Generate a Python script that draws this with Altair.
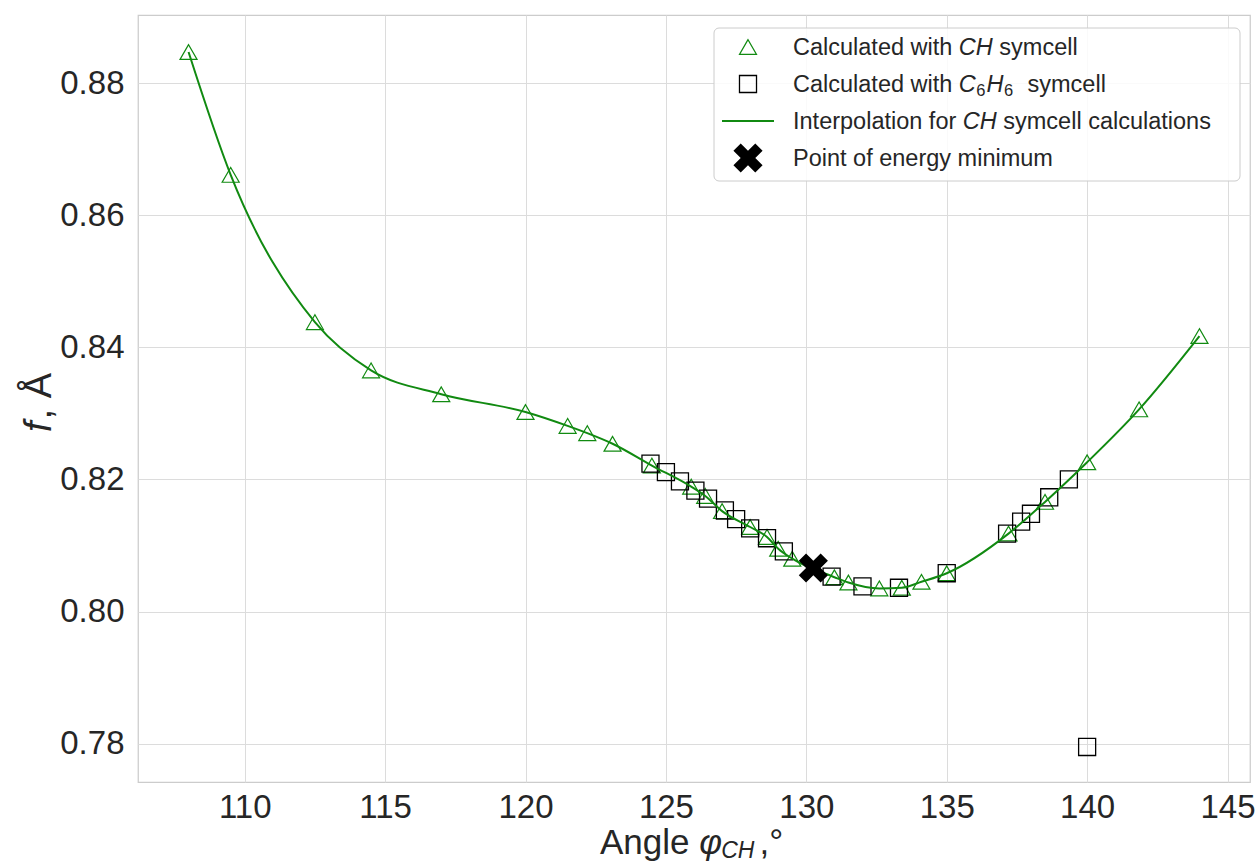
import altair as alt
import pandas as pd

# ---------------- data ----------------
ch_angle = [108.0, 109.5, 112.5, 114.5, 117.0, 120.0, 121.5, 122.2, 123.1, 124.5,
            125.9, 126.4, 127.0, 128.0, 128.6, 129.0, 129.5, 131.0, 131.5, 132.6,
            133.4, 134.1, 135.0, 137.2, 138.5, 140.0, 141.85, 144.0]
ch_f = [0.8847, 0.8661, 0.8438, 0.8365, 0.8329, 0.8302, 0.8281, 0.8270, 0.8254, 0.8221,
        0.8189, 0.8175, 0.8152, 0.8128, 0.8113, 0.8095, 0.8080, 0.8052, 0.8044, 0.8035,
        0.8036, 0.8045, 0.8058, 0.8118, 0.8166, 0.8226, 0.8306, 0.8417]

c6_angle = [124.45, 125.0, 125.5, 126.05, 126.5, 127.1, 127.5, 128.0, 128.6, 129.2,
            130.9, 132.0, 133.3, 135.0, 137.15, 137.65, 138.0, 138.65, 139.35, 140.0]
c6_f = [0.8224, 0.8211, 0.8197, 0.8183, 0.8171, 0.8153, 0.8140, 0.8126, 0.8111, 0.8091,
        0.8053, 0.8038, 0.8036, 0.8058, 0.8118, 0.8136, 0.8148, 0.8173, 0.8200, 0.7795]

min_angle = [130.25]
min_f = [0.8066]

x_ticks = [110, 115, 120, 125, 130, 135, 140, 145]
y_ticks = [0.78, 0.80, 0.82, 0.84, 0.86, 0.88]

legend_labels = ["Calculated with", "CH", "symcell", "C", "6", "H", "symcell",
                 "Interpolation for", "symcell calculations", "Point of energy minimum"]

# ---------------- styling ----------------
FONT = "Liberation Sans"
TC = "#262626"
GREEN = "#118a11"
X_PATH = ("M-0.5,-1L0,-0.5L0.5,-1L1,-0.5L0.5,0L1,0.5L0.5,1L0,0.5"
          "L-0.5,1L-1,0.5L-0.5,0L-1,-0.5Z")

ARIAL = {' ': 278, 'C': 722, 'a': 556, 'l': 222, 'c': 500, 'u': 556, 't': 278, 'e': 556,
         'd': 556, 'w': 722, 'i': 222, 'h': 556, 'H': 722, 's': 500, 'y': 500, 'm': 833,
         'I': 278, 'n': 556, 'r': 333, 'p': 556, 'o': 556, 'f': 278, 'P': 667, 'g': 556,
         '6': 556, ',': 278, 'A': 667}


def tw(s, fs):
    return sum(ARIAL.get(ch, 556) for ch in s) * fs / 1000.0


ch = pd.DataFrame({"angle": ch_angle, "f": ch_f})
c6 = pd.DataFrame({"angle": c6_angle, "f": c6_f})
mn = pd.DataFrame({"angle": min_angle, "f": min_f})
one = pd.DataFrame({"k": [0]})

xs = alt.Scale(domain=[106.2, 145.8], nice=False, zero=False)
ys = alt.Scale(domain=[0.7742, 0.8903], nice=False, zero=False)
xax = alt.Axis(values=x_ticks, title=None, format="d", labelPadding=9)
yax = alt.Axis(values=y_ticks, title=None, format=".2f", labelPadding=14)


def enc(c):
    return c.encode(x=alt.X("angle:Q", scale=xs, axis=xax),
                    y=alt.Y("f:Q", scale=ys, axis=yax))


tri = enc(alt.Chart(ch).mark_point(shape="triangle-up", filled=False, color=GREEN,
                                   size=290, strokeWidth=1.2, opacity=1))
sq = enc(alt.Chart(c6).mark_point(shape="square", filled=False, color="black",
                                  size=290, strokeWidth=1.3, opacity=1))
line = enc(alt.Chart(ch).mark_line(color=GREEN, strokeWidth=2, interpolate="monotone"))
xmin = enc(alt.Chart(mn).mark_point(shape=X_PATH, filled=True, color="black",
                                    size=850, opacity=1, strokeWidth=0))


def txt(s, x, y, fs, italic=False, angle=0, baseline="alphabetic"):
    return alt.Chart(one).mark_text(
        text=s, font=FONT, fontSize=fs, fontStyle="italic" if italic else "normal",
        color=TC, align="left", baseline=baseline, angle=angle
    ).encode(x=alt.value(x), y=alt.value(y))


layers = [tri, sq, line, xmin]

# ---------------- legend ----------------
box = alt.Chart(one).mark_rect(fill="white", fillOpacity=0.85, stroke="#cccccc",
                               strokeWidth=1, cornerRadius=5).encode(
    x=alt.value(576), x2=alt.value(1102), y=alt.value(13), y2=alt.value(166))
layers.append(box)

mx = 610
rows = [32, 69, 106, 143]
layers.append(alt.Chart(one).mark_point(shape="triangle-up", filled=False, color=GREEN,
                                        size=290, strokeWidth=1.2, opacity=1)
              .encode(x=alt.value(mx), y=alt.value(rows[0])))
layers.append(alt.Chart(one).mark_point(shape="square", filled=False, color="black",
                                        size=290, strokeWidth=1.3, opacity=1)
              .encode(x=alt.value(mx), y=alt.value(rows[1])))
layers.append(alt.Chart(one).mark_rule(color=GREEN, strokeWidth=2)
              .encode(x=alt.value(584), x2=alt.value(636), y=alt.value(rows[2])))
layers.append(alt.Chart(one).mark_point(shape=X_PATH, filled=True, color="black",
                                        size=850, opacity=1, strokeWidth=0)
              .encode(x=alt.value(mx), y=alt.value(rows[3])))

FS = 23.5
SP = tw(" ", FS)
tx = 655
bl = [r + 8.4 for r in rows]
# row 1
x1 = tx + tw(legend_labels[0], FS) + SP
layers.append(txt(legend_labels[0], tx, bl[0], FS))
layers.append(txt(legend_labels[1], x1, bl[0], FS, italic=True))
layers.append(txt(legend_labels[2], x1 + tw("CH", FS) + SP, bl[0], FS))
# row 2
SUB = 16.5
layers.append(txt(legend_labels[0], tx, bl[1], FS))
cx = x1
layers.append(txt("C", cx, bl[1], FS, italic=True))
cx += tw("C", FS) + 0.5
layers.append(txt("6", cx, bl[1] + 4, SUB))
cx += tw("6", SUB) + 1
layers.append(txt("H", cx, bl[1], FS, italic=True))
cx += tw("H", FS) + 0.5
layers.append(txt("6", cx, bl[1] + 4, SUB))
layers.append(txt(legend_labels[6], cx + tw("6", SUB) + 2.2 * SP, bl[1], FS))
# row 3
x3 = tx + tw(legend_labels[7], FS) + SP
layers.append(txt(legend_labels[7], tx, bl[2], FS))
layers.append(txt("CH", x3, bl[2], FS, italic=True))
layers.append(txt(legend_labels[8], x3 + tw("CH", FS) + SP, bl[2], FS))
# row 4
layers.append(txt(legend_labels[9], tx, bl[3], FS))

# ---------------- axis titles ----------------
TFS = 35
ax0 = 462
ab = 839
layers.append(txt("Angle", ax0, ab, TFS))
phx = ax0 + tw("Angle ", TFS)
layers.append(txt("φ", phx, ab, TFS, italic=True))
chx = phx + 22
layers.append(txt("CH", chx, ab + 4, 23, italic=True))
layers.append(txt(",°", chx + tw("CH", 23) + 5, ab, TFS))

YFS = 38
layers.append(txt("f", -98, 417, YFS, italic=True, angle=270, baseline="middle"))
layers.append(txt(", Å", -98, 417 - tw("f", YFS) - 2, YFS, angle=270, baseline="middle"))

chart = alt.layer(*layers).properties(
    width=1112, height=767,
    autosize=alt.AutoSizeParams(type="none"),
    padding={"left": 138, "top": 15, "right": 9, "bottom": 83},
    background="white",
).configure_view(
    stroke="#cccccc", strokeWidth=1.25
).configure_axis(
    grid=True, gridColor="#dcdcdc", gridWidth=1, domain=False, ticks=False,
    labelFont=FONT, labelFontSize=33, labelColor=TC,
)

chart.save("out.html", embed_options={"renderer": "svg", "actions": False})
